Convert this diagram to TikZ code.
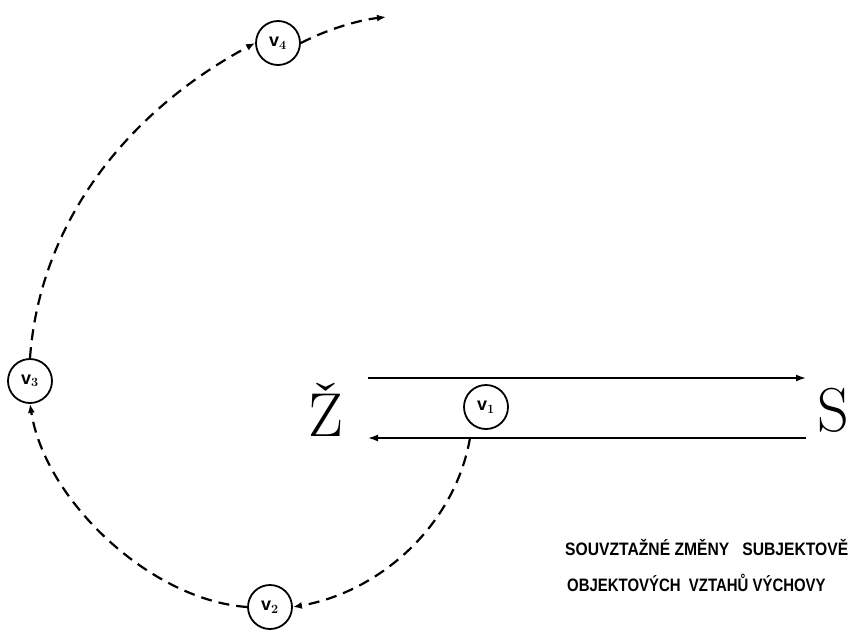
\documentclass[tikz,border=0pt]{standalone}
\usepackage{fontspec}
\setmainfont{Latin Modern Roman}
\newfontfamily\capsfont{Liberation Sans}
\usetikzlibrary{arrows.meta}
\begin{document}
\begin{tikzpicture}[x=1pt,y=-1pt,
  state/.style={circle,draw,line width=1.8pt,minimum size=44pt,inner sep=0pt,font=\capsfont\bfseries\fontsize{18}{18}\selectfont},
  flow/.style={line width=1.6pt,-{Latex[length=10pt,width=7pt]}},
  dflow/.style={line width=2.2pt,dash pattern=on 11pt off 7pt,-{Latex[length=9pt,width=7pt]}},
  big/.style={font=\fontsize{62}{62}\selectfont,inner sep=0pt},
  caption/.style={font=\capsfont\bfseries\fontsize{18}{18}\selectfont,inner sep=0pt,anchor=west}]
\useasboundingbox (0,0) rectangle (858,635);
\node[state] (v1) at (486,407) {v$_{\mathbf 1}$};
\node[state] (v2) at (270,607) {v$_{\mathbf 2}$};
\node[state] (v3) at (30,381) {v$_{\mathbf 3}$};
\node[state] (v4) at (278,43) {v$_{\mathbf 4}$};
\node[big] (Z) at (326,410) {Ž};
\node[big] (S) at (833,410) {S};
\coordinate (ta) at (368,378);
\coordinate (tb) at (806,378);
\coordinate (ba) at (806,438);
\coordinate (bb) at (368,438);
\coordinate (start) at (470,438);
\coordinate (endp) at (386,17);
\draw[flow] (ta) -- (tb);
\draw[flow] (ba) -- (bb);
\draw[dflow] (start) .. controls (455,525) and (380,592) .. (v2.east);
\draw[dflow] (v2.west) .. controls (150,600) and (45,500) .. (v3.south);
\draw[dflow] (v3.north) .. controls (40,220) and (130,110) .. (v4.west);
\draw[dflow] (v4.east) .. controls (330,28) and (360,20) .. (endp);
\node[caption] (c1) at (565,548) {\scalebox{0.87}[1]{SOUVZTAŽNÉ ZMĚNY\ \ \ SUBJEKTOVĚ}};
\node[caption] (c2) at (567,583) {\scalebox{0.83}[1]{OBJEKTOVÝCH\ \ VZTAHŮ VÝCHOVY}};
\end{tikzpicture}
\end{document}
